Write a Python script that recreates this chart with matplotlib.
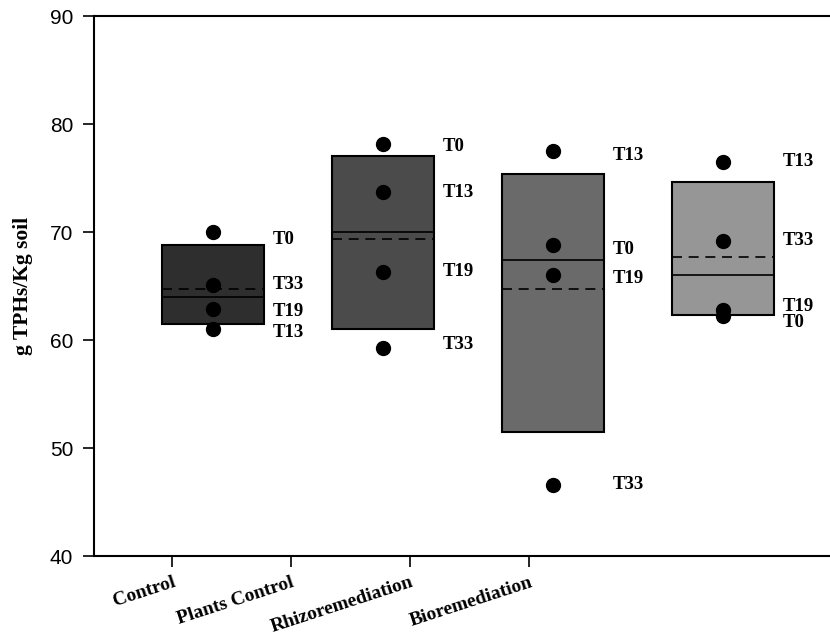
import matplotlib.pyplot as plt
import numpy as np

# TPH content per treatment, one value per sampling time
groups = ["Control", "Plants Control", "Rhizoremediation", "Bioremediation"]
times = ["T0", "T13", "T19", "T33"]
control = [70.0, 61.0, 62.9, 65.1]
plants_control = [78.15, 73.7, 66.3, 59.3]
rhizo = [68.8, 77.5, 66.0, 46.6]
bio = [62.2, 76.5, 62.8, 69.2]
values = [control, plants_control, rhizo, bio]

colors = ["#2e2e2e", "#4b4b4b", "#6a6a6a", "#969696"]

# small vertical nudges (in data units) so the labels don't collide
nudge = {
    (0, "T0"): -0.7, (0, "T19"): -0.3, (0, "T13"): -0.3,
    (1, "T0"): -0.2, (1, "T33"): 0.3,
    (2, "T13"): -0.4, (2, "T0"): -0.4, (2, "T19"): -0.3,
    (3, "T19"): 0.3, (3, "T0"): -0.6,
}

serif = "Liberation Serif"
sans = "Liberation Sans"

fig = plt.figure(figsize=(8.3, 6.35), dpi=100)
ax = fig.add_axes([0.1133, 0.1244, 0.8867, 0.8504])

width = 0.6
for i, vals in enumerate(values):
    x = i + 1
    v = np.array(vals)
    q1, med, q3 = np.percentile(v, [25, 50, 75], method="weibull")
    mean = v.mean()
    ax.add_patch(plt.Rectangle((x - width / 2, q1), width, q3 - q1,
                               facecolor=colors[i], edgecolor="black",
                               linewidth=1.5, zorder=2))
    ax.plot([x - width / 2, x + width / 2], [med, med], color="black",
            linewidth=1.2, zorder=3)
    ax.plot([x - width / 2, x + width / 2], [mean, mean], color="black",
            linewidth=1.2, linestyle=(0, (6, 4)), zorder=3)
    ax.plot([x] * len(v), v, "o", color="black", markersize=10, zorder=4)
    for t, val in zip(times, vals):
        ax.text(x + 0.35, val + nudge.get((i, t), 0), t, fontsize=13.5,
                fontweight="bold", family=serif, va="center", ha="left")

ax.set_xlim(0.3, 4.63)
ax.set_ylim(40, 90)
ax.set_yticks(np.arange(40, 91, 10))
ax.set_yticklabels([str(t) for t in range(40, 91, 10)], family=sans, fontsize=15)

xt = 0.76 + 0.7 * np.arange(len(groups))
ax.set_xticks(xt)
ax.set_xticklabels(groups, rotation=18, ha="right", rotation_mode="anchor",
                   family=serif, fontweight="bold", fontsize=14)

ax.tick_params(direction="out", length=8, width=1.2, pad=7)
ax.tick_params(axis="x", pad=5)
for side in ["left", "bottom", "top"]:
    ax.spines[side].set_linewidth(1.5)
ax.spines["right"].set_visible(False)

ax.set_ylabel("g TPHs/Kg soil", family=serif, fontweight="bold", fontsize=15.5,
              labelpad=12)

fig.savefig("out.png", dpi=100)
